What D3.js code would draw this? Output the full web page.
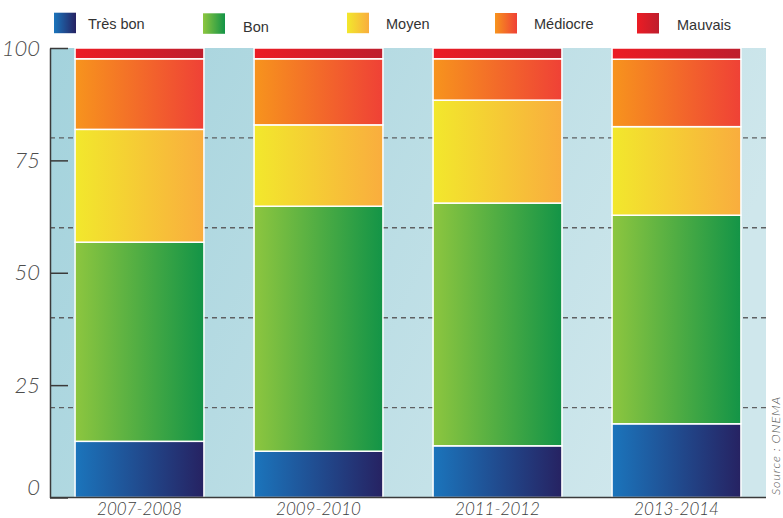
<!DOCTYPE html>
<html>
<head>
<meta charset="utf-8">
<script src="https://cdn.jsdelivr.net/npm/d3@7"></script>
<style>
html,body{margin:0;padding:0;background:#fff;}
svg{display:block;}
</style>
</head>
<body>
<svg id="chart" width="783" height="518"></svg>
<script>
const categories = ["2007-2008", "2009-2010", "2011-2012", "2013-2014"];
const seriesNames = ["Très bon", "Bon", "Moyen", "Médiocre", "Mauvais"];
const tresBon  = [12.5, 10.3, 11.5, 16.4];
const bon      = [44.3, 54.5, 54.0, 46.4];
const moyen    = [25.1, 18.1, 22.9, 19.7];
const mediocre = [15.7, 14.7,  9.2, 15.0];
const mauvais  = [ 2.4,  2.4,  2.4,  2.5];
const tickValues = [0, 25, 50, 75, 100];
const gridValues = [20, 40, 60, 80];
const sourceText = "Source : ONEMA";

const seriesValues = [tresBon, bon, moyen, mediocre, mauvais];
const gradStops = [
  ["#1b75bc", "#262262"],
  ["#8dc63f", "#139447"],
  ["#f2e82c", "#f9ad3e"],
  ["#f7941d", "#ef4136"],
  ["#ec1c24", "#be1e2d"]
];

const svg = d3.select("#chart");
const defs = svg.append("defs");
gradStops.forEach((s, i) => {
  const g = defs.append("linearGradient").attr("id", "g" + i)
    .attr("x1", "0%").attr("x2", "100%").attr("y1", "0%").attr("y2", "0%");
  g.append("stop").attr("offset", "0%").attr("stop-color", s[0]);
  g.append("stop").attr("offset", "100%").attr("stop-color", s[1]);
});
const bg = defs.append("linearGradient").attr("id", "bg")
  .attr("x1", "0%").attr("x2", "100%").attr("y1", "0%").attr("y2", "30%");
bg.append("stop").attr("offset", "0%").attr("stop-color", "#a3d2dc");
bg.append("stop").attr("offset", "100%").attr("stop-color", "#cfe7ec");

const mLeft = 50, mRight = 766, mTop = 48, mBottom = 497.5;
const x = d3.scaleBand().domain(categories).range([mLeft, mRight])
  .paddingInner(0.28).paddingOuter(0.14);
const y = d3.scaleLinear().domain([0, 100]).range([mBottom, mTop]);

// panel
svg.append("rect").attr("x", mLeft).attr("y", mTop)
  .attr("width", mRight - mLeft).attr("height", mBottom - mTop)
  .attr("fill", "url(#bg)");

// dashed grid
svg.append("g").selectAll("line").data(gridValues).join("line")
  .attr("x1", mLeft).attr("x2", mRight)
  .attr("y1", d => y(d)).attr("y2", d => y(d))
  .attr("stroke", "#5f6062").attr("stroke-width", 1.4)
  .attr("stroke-dasharray", "5,4");

// stacked data
const rows = categories.map((c, i) => {
  const r = { cat: c };
  seriesNames.forEach((n, j) => r[n] = seriesValues[j][i]);
  return r;
});
const stack = d3.stack().keys(seriesNames)(rows);

svg.append("g").selectAll("g").data(stack).join("g")
  .attr("fill", (d, i) => `url(#g${i})`)
  .selectAll("rect").data(d => d).join("rect")
  .attr("x", d => x(d.data.cat))
  .attr("width", x.bandwidth())
  .attr("y", d => y(d[1]))
  .attr("height", d => y(d[0]) - y(d[1]))
  .attr("stroke", "#ffffff").attr("stroke-width", 1.5);

// baseline
svg.append("line").attr("x1", mLeft).attr("x2", mRight)
  .attr("y1", mBottom).attr("y2", mBottom)
  .attr("stroke", "#3a3a3a").attr("stroke-width", 1.5);

// y axis
const yAxis = d3.axisLeft(y).tickValues(tickValues).tickSize(-18)
  .tickSizeOuter(0).tickPadding(10);
const ya = svg.append("g").attr("transform", `translate(${mLeft},0)`).call(yAxis);
ya.select(".domain").attr("stroke", "#3a3a3a").attr("stroke-width", 1.5);
ya.selectAll(".tick line").attr("stroke", "#3a3a3a").attr("stroke-width", 1.5);
ya.selectAll(".tick text")
  .attr("font-family", "Lato, 'Open Sans', sans-serif")
  .attr("font-weight", 300).attr("font-style", "italic")
  .attr("font-size", 22).attr("fill", "#4d4d4d")
  .attr("dy", d => d === 0 ? "-0.12em" : "0.32em");

// x labels
const xAxis = d3.axisBottom(x).tickSize(0).tickPadding(5);
const xa = svg.append("g").attr("transform", `translate(0,${mBottom})`).call(xAxis);
xa.select(".domain").remove();
xa.selectAll(".tick text")
  .attr("font-family", "Lato, 'Open Sans', sans-serif")
  .attr("font-weight", 300).attr("font-style", "italic")
  .attr("font-size", 17).attr("fill", "#3d3d3d");

// legend
const swatchX = [54, 203, 347, 495, 637];
const swatchY = [12.7, 13.3, 12.7, 13, 13];
const textX = [88, 243, 386, 534, 677];
const textY = [29, 31.5, 29.3, 29, 30];
const lg = svg.append("g").selectAll("g").data(seriesNames).join("g");
lg.append("rect")
  .attr("x", (d, i) => swatchX[i]).attr("y", (d, i) => swatchY[i])
  .attr("width", 22).attr("height", 20.5)
  .attr("fill", (d, i) => `url(#g${i})`);
lg.append("text")
  .attr("x", (d, i) => textX[i]).attr("y", (d, i) => textY[i])
  .attr("font-family", "'Liberation Sans', Arial, sans-serif")
  .attr("font-size", 14.5).attr("fill", "#333")
  .text(d => d);

// source
svg.append("text")
  .attr("transform", "translate(780,495) rotate(-90)")
  .attr("font-family", "Lato, sans-serif").attr("font-weight", 300)
  .attr("font-style", "italic")
  .attr("font-size", 12.5).attr("letter-spacing", 0.9).attr("fill", "#555")
  .text(sourceText);
</script>
</body>
</html>
